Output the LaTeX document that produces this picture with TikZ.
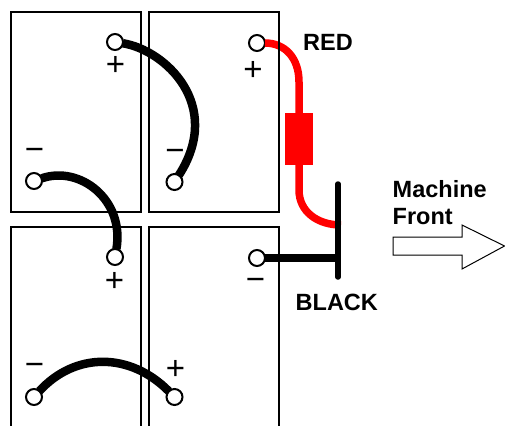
\documentclass[tikz,border=0pt]{standalone}
\usepackage{fontspec}
\setmainfont{Liberation Sans}
\begin{document}
\begin{tikzpicture}[x=1pt,y=-1pt,
  cell/.style={draw=black,line width=2pt},
  terminal/.style={circle,draw=black,fill=white,line width=2pt,minimum size=16pt,inner sep=0pt,outer sep=0pt},
  wire/.style={line width=8.5pt,black},
  redwire/.style={line width=7.5pt,red},
  sign/.style={font=\fontsize{33}{33}\selectfont,inner sep=0pt,text=black},
  lab/.style={font=\fontsize{23.5}{23.5}\selectfont\bfseries,inner sep=0pt,anchor=base west,text=black}]
\useasboundingbox (0,0) rectangle (505,425);
% terminals
\node[terminal] (a1) at (115,42) {};
\node[terminal] (a2) at (257,43) {};
\node[terminal] (a3) at (34,181) {};
\node[terminal] (a4) at (174.5,182) {};
\node[terminal] (b1) at (115,257) {};
\node[terminal] (b2) at (257,258) {};
\node[terminal] (b3) at (34,397) {};
\node[terminal] (b4) at (174.5,397) {};
% fuse and bus
\node[fill=red,draw=none,minimum width=28pt,minimum height=52pt,inner sep=0pt,outer sep=0pt] (fuse) at (299,139) {};
\coordinate (bartop) at (338,184);
\coordinate (barbot) at (338,277);
\coordinate (redjoin) at (341,225);
% red wire
\draw[redwire] (a2) .. controls (285,43) and (299,58) .. (299,82) -- (fuse.north);
\draw[redwire] (fuse.south) -- (299,190) .. controls (299,212) and (318,225) .. (redjoin);
% cells
\draw[cell] (10.5,12) rectangle (140.5,212);
\draw[cell] (149,12) rectangle (279,212);
\draw[cell] (10.5,430) -- (10.5,227) -- (140.5,227) -- (140.5,430);
\draw[cell] (149,430) -- (149,227) -- (279,227) -- (279,430);
% black wires
\draw[wire] (a1) .. controls (165,50) and (224,105) .. (a4);
\draw[wire] (a3) .. controls (80,165) and (125,200) .. (b1);
\draw[wire] (b3) .. controls (75,352) and (130,352) .. (b4);
\draw[line width=8pt,black] (b2) -- (b2 -| bartop);
\draw[line width=5.5pt,line cap=round,black] (bartop) -- (barbot);
% signs
\node[sign] (s1) at (115.5,66) {+};
\node[sign] (s2) at (253,70.5) {+};
\node[sign] (s3) at (34.5,154.5) {−};
\node[sign] (s4) at (175,155) {−};
\node[sign] (s5) at (114.5,282) {+};
\node[sign] (s6) at (255.5,284.5) {−};
\node[sign] (s7) at (34.5,369.5) {−};
\node[sign] (s8) at (175.5,370) {+};
% labels
\node[lab] (red) at (303,51) {RED};
\node[lab] (black) at (295.5,310) {BLACK};
\node[lab] (mach) at (392.5,197) {Machine};
\node[lab] (front) at (392.5,224) {Front};
% direction arrow
\draw[black,line width=1pt,fill=white] (393,237) -- (462,237) -- (462,225) -- (504.5,246) -- (462,269) -- (462,255) -- (393,255) -- cycle;
\end{tikzpicture}
\end{document}
